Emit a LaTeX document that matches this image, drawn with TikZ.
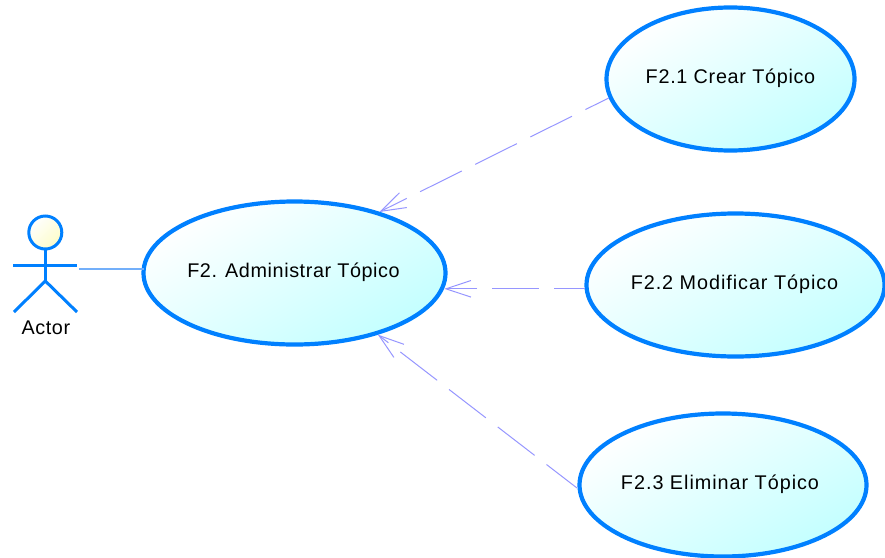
\documentclass[tikz,border=0pt]{standalone}
\usepackage{fontspec}
\setmainfont{Liberation Sans}[LetterSpace=3]
\usetikzlibrary{shapes.geometric,arrows.meta}
\definecolor{ucblue}{RGB}{0,128,255}
\definecolor{depline}{RGB}{150,150,255}
\definecolor{assocline}{RGB}{115,175,250}
\definecolor{ucfill}{RGB}{195,255,255}
\definecolor{headfill}{RGB}{252,252,200}
\newcommand{\uctext}[2][0pt]{\raisebox{6pt}{\hspace*{#1}#2}}
\tikzset{
  x=1pt,y=-1pt,
  usecase/.style={ellipse,draw=ucblue,line width=4.2pt,inner sep=0pt,outer sep=0pt,
    minimum height=143pt,top color=white,bottom color=ucfill,shading angle=30,
    font=\fontsize{19.8pt}{23pt}\selectfont,text=black},
  stick/.style={draw=ucblue,line width=3pt},
  dep/.style={draw=depline,line width=1pt,
    -{Straight Barb[length=25pt,width=16.5pt,line width=1pt]}},
  assoc/.style={draw=assocline,line width=1.3pt},
}
\begin{document}
\begin{tikzpicture}
\useasboundingbox (0,0) rectangle (885,557);
\node[usecase,minimum width=302pt] (admin) at (294.5,273) {\uctext[-2pt]{F2. Administrar Tópico}};
\node[usecase,minimum width=248pt] (crear) at (730.5,79) {\uctext{\addfontfeature{LetterSpace=3.6}F2.1 Crear Tópico}};
\node[usecase,minimum width=298pt] (modif) at (735.5,285) {\uctext[-2pt]{\addfontfeature{LetterSpace=4.8}F2.2 Modificar Tópico}};
\node[usecase,minimum width=287pt] (elim) at (723,485) {\uctext[-6pt]{\addfontfeature{LetterSpace=4.9}F2.3 Eliminar Tópico}};
% actor
\node[circle,draw=ucblue,line width=3pt,inner sep=0pt,outer sep=0pt,minimum size=33pt,
  top color=white,bottom color=headfill,shading angle=45] (head) at (45.3,232.5) {};
\coordinate (hip) at (45.3,281);
\coordinate (armL) at (13,265);
\coordinate (armR) at (77,265);
\coordinate (legL) at (14,312);
\coordinate (legR) at (77,312);
\coordinate (actorport) at (79,269);
\draw[stick] (head.south) -- (hip);
\draw[stick] (armL) -- (armR);
\draw[stick,line join=miter] (legL) -- (hip) -- (legR);
\node[font=\fontsize{19.8pt}{23pt}\selectfont,inner sep=0pt] (actorlabel) at (45.8,328) {Actor};
\draw[assoc] (actorport) -- (admin.west |- actorport);
\draw[dep,dash pattern=on 46.5pt off 15pt,dash phase=20.5pt]
  ([shift={(-121.8,19)}]crear.center) -- ([shift={(84.8,-61)}]admin.center);
\draw[dep,dash pattern=on 46.5pt off 15pt,dash phase=15pt]
  ([shift={(-150.5,3.8)}]modif.center) -- ([shift={(149.8,15.8)}]admin.center);
\draw[dep,dash pattern=on 46.5pt off 15pt,dash phase=8pt]
  ([shift={(-146,3)}]elim.center) -- ([shift={(83.3,61.6)}]admin.center);
\end{tikzpicture}
\end{document}
